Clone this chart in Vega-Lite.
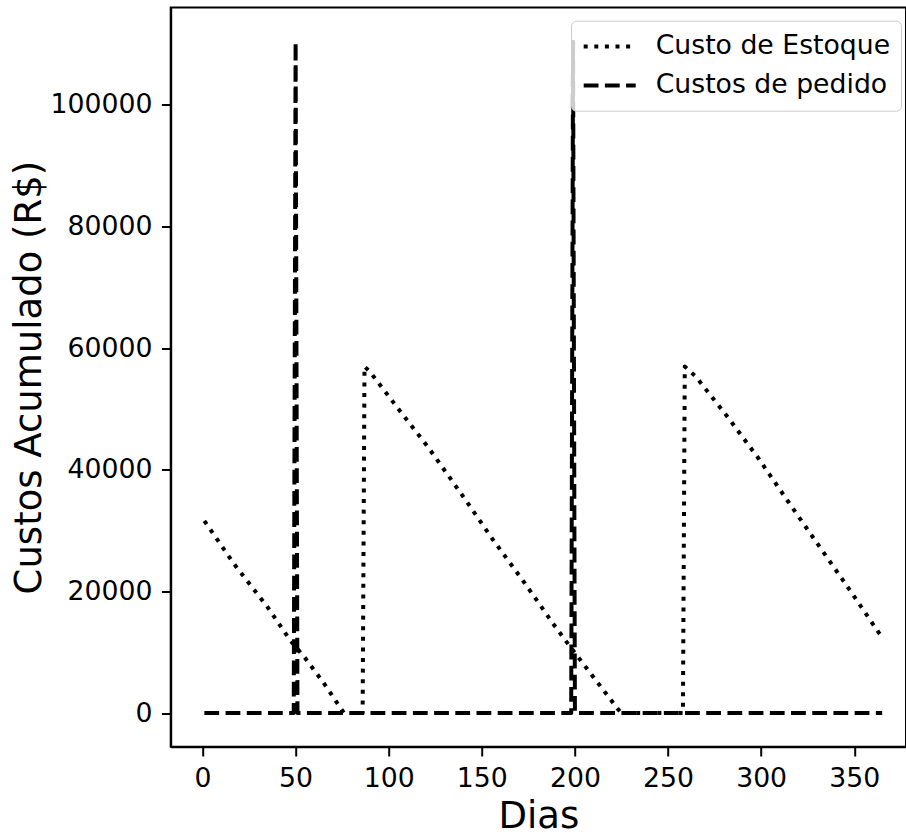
{
  "$schema": "https://vega.github.io/schema/vega-lite/v6.json",
  "width": 735.3,
  "height": 739.2,
  "autosize": {"type": "none"},
  "padding": {"left": 170.7, "top": 7.5, "right": 0, "bottom": 87.3},
  "background": "white",
  "config": {
    "view": {"stroke": "black", "strokeWidth": 2},
    "font": "DejaVu Sans",
    "axis": {
      "domainColor": "black", "domainWidth": 2,
      "tickColor": "black", "tickWidth": 2, "tickSize": 9.3,
      "labelFont": "DejaVu Sans", "labelFontSize": 26.7, "labelColor": "black", "labelPadding": 9.4,
      "titleFont": "DejaVu Sans", "titleFontSize": 37, "titleFontWeight": "normal", "titleColor": "black",
      "grid": false
    },
    "legend": {
      "labelFont": "DejaVu Sans", "labelFontSize": 26.7, "labelColor": "black", "labelLimit": 0
    }
  },
  "data": {
    "values": [
      {"serie": "Custo de Estoque", "dia": 1, "valor": 31600},
      {"serie": "Custo de Estoque", "dia": 17, "valor": 24500},
      {"serie": "Custo de Estoque", "dia": 35, "valor": 17400},
      {"serie": "Custo de Estoque", "dia": 47, "valor": 12000},
      {"serie": "Custo de Estoque", "dia": 55, "valor": 9100},
      {"serie": "Custo de Estoque", "dia": 65, "valor": 5000},
      {"serie": "Custo de Estoque", "dia": 74, "valor": 900},
      {"serie": "Custo de Estoque", "dia": 76, "valor": 0},
      {"serie": "Custo de Estoque", "dia": 86, "valor": 0},
      {"serie": "Custo de Estoque", "dia": 87, "valor": 57000},
      {"serie": "Custo de Estoque", "dia": 90, "valor": 56100},
      {"serie": "Custo de Estoque", "dia": 107, "valor": 49300},
      {"serie": "Custo de Estoque", "dia": 121, "valor": 43800},
      {"serie": "Custo de Estoque", "dia": 140, "valor": 35600},
      {"serie": "Custo de Estoque", "dia": 156, "valor": 28500},
      {"serie": "Custo de Estoque", "dia": 173, "valor": 21400},
      {"serie": "Custo de Estoque", "dia": 189, "valor": 14400},
      {"serie": "Custo de Estoque", "dia": 196, "valor": 11500},
      {"serie": "Custo de Estoque", "dia": 223, "valor": 700},
      {"serie": "Custo de Estoque", "dia": 225, "valor": 0},
      {"serie": "Custo de Estoque", "dia": 258, "valor": 0},
      {"serie": "Custo de Estoque", "dia": 259, "valor": 57000},
      {"serie": "Custo de Estoque", "dia": 265, "valor": 55300},
      {"serie": "Custo de Estoque", "dia": 282, "valor": 48700},
      {"serie": "Custo de Estoque", "dia": 299, "valor": 41700},
      {"serie": "Custo de Estoque", "dia": 314, "valor": 35000},
      {"serie": "Custo de Estoque", "dia": 324, "valor": 30600},
      {"serie": "Custo de Estoque", "dia": 347, "valor": 20500},
      {"serie": "Custo de Estoque", "dia": 363, "valor": 13300},
      {"serie": "Custo de Estoque", "dia": 365, "valor": 12500},
      {"serie": "Custos de pedido", "dia": 1, "valor": 0},
      {"serie": "Custos de pedido", "dia": 49, "valor": 0},
      {"serie": "Custos de pedido", "dia": 50, "valor": 110400},
      {"serie": "Custos de pedido", "dia": 51, "valor": 0},
      {"serie": "Custos de pedido", "dia": 198, "valor": 0},
      {"serie": "Custos de pedido", "dia": 199, "valor": 110400},
      {"serie": "Custos de pedido", "dia": 200, "valor": 0},
      {"serie": "Custos de pedido", "dia": 365, "valor": 0}
    ]
  },
  "mark": {"type": "line", "color": "black", "strokeWidth": 4, "strokeCap": "butt", "strokeJoin": "round", "clip": true},
  "encoding": {
    "x": {
      "field": "dia", "type": "quantitative", "title": "Dias",
      "scale": {"domain": [-17.08, 377.8], "nice": false, "zero": false},
      "axis": {"values": [0, 50, 100, 150, 200, 250, 300, 350], "titlePadding": 6}
    },
    "y": {
      "field": "valor", "type": "quantitative", "title": "Custos Acumulado (R$)",
      "scale": {"domain": [-5525, 116025], "nice": false, "zero": false},
      "axis": {"values": [0, 20000, 40000, 60000, 80000, 100000], "format": "d", "titlePadding": 2}
    },
    "strokeDash": {
      "field": "serie", "type": "nominal",
      "scale": {"domain": ["Custo de Estoque", "Custos de pedido"], "range": [[4, 6.6], [14.8, 6.4]]},
      "legend": {
        "title": null, "orient": "none", "legendX": 400.3, "legendY": 13.2,
        "symbolType": "M-1,0H3", "symbolSize": 676, "symbolStrokeWidth": 4, "symbolStrokeColor": "black",
        "labelOffset": 44, "padding": 10.7, "rowPadding": 10,
        "fillColor": "rgba(255,255,255,0.8)", "strokeColor": "#cccccc", "cornerRadius": 5
      }
    },
    "order": {"field": "dia", "type": "quantitative"}
  }
}
